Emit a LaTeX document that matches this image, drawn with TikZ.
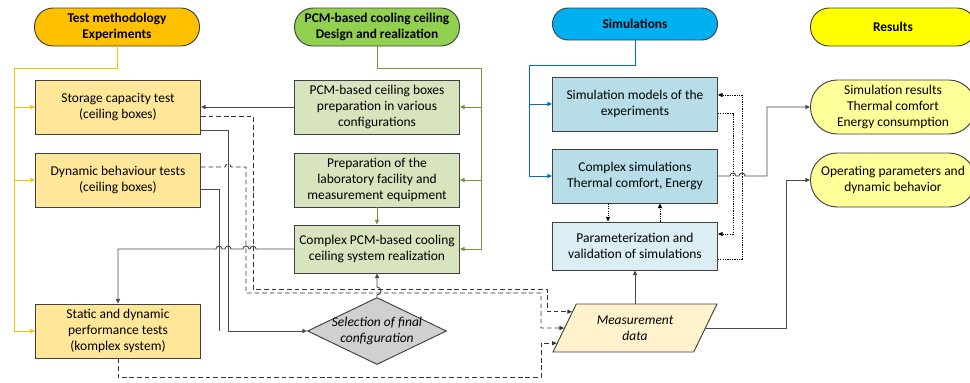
\documentclass[tikz,border=0pt]{standalone}
\usepackage{fontspec}
\setmainfont{Carlito}
\usetikzlibrary{arrows.meta,shapes.geometric,calc,positioning}

\definecolor{hdrorange}{HTML}{FFC000}
\definecolor{hdrgreen}{HTML}{92D050}
\definecolor{hdrblue}{HTML}{00B0F0}
\definecolor{hdryellow}{HTML}{FFFF00}
\definecolor{boxorange}{HTML}{FFE699}
\definecolor{boxgreen}{HTML}{D7E4BD}
\definecolor{boxblue}{HTML}{B7DEE8}
\definecolor{boxpale}{HTML}{DAEEF3}
\definecolor{boxyellow}{HTML}{FFFF99}
\definecolor{datacream}{HTML}{FFF2CC}
\definecolor{diagray}{HTML}{D0D0D0}
\definecolor{lineorange}{HTML}{FFC000}
\definecolor{linegreen}{HTML}{77933C}
\definecolor{lineblue}{HTML}{0070C0}
\definecolor{linegray}{HTML}{4A4A4A}
\definecolor{edge}{HTML}{404040}

\tikzset{
  hdr/.style={draw=edge, line width=0.8pt, rounded corners=0.56cm, minimum width=4.95cm,
    minimum height=1.14cm, align=center, font=\bfseries\fontsize{11.4}{13.4}\selectfont},
  box/.style={draw=edge, line width=0.8pt, minimum width=4.95cm, minimum height=1.62cm,
    inner xsep=2pt, align=center},
  res/.style={box, fill=boxyellow, rounded corners=0.8cm},
  choice/.style={diamond, draw=edge, line width=0.8pt, fill=diagray, minimum width=4.17cm,
    minimum height=2.01cm, aspect=2, inner sep=0pt, align=center,
    font=\itshape\fontsize{11.5}{13.9}\selectfont},
  data/.style={trapezium, trapezium left angle=63, trapezium right angle=117,
    trapezium stretches=true, draw=edge, line width=0.8pt, fill=datacream,
    minimum width=4.95cm, minimum height=1.44cm, align=center,
    font=\itshape\fontsize{11.5}{13.9}\selectfont},
  oline/.style={draw=lineorange, line width=0.8pt},
  gline/.style={draw=linegreen, line width=0.8pt},
  bline/.style={draw=lineblue, line width=0.8pt},
  sline/.style={draw=linegray, line width=0.8pt},
  dline/.style={draw=black!80, line width=0.75pt, dash pattern=on 4pt off 2.5pt},
  tline/.style={draw=black, line width=0.6pt, dash pattern=on 1pt off 1pt},
}

\begin{document}
\begin{tikzpicture}[x=0.03cm, y=-0.03cm, font=\fontsize{11.5}{13.9}\selectfont,
  >={Triangle[length=4pt,width=3.5pt]}]
	\useasboundingbox (0,0) rectangle (970,382);
	% Headers
	\node[hdr, fill=hdrorange] (hmeth) at (117,27) {Test methodology\\Experiments};
	\node[hdr, fill=hdrgreen]  (hpcm)  at (377,27) {PCM-based cooling ceiling\\Design and realization};
	\node[hdr, fill=hdrblue, minimum height=0.96cm, rounded corners=0.47cm] (hsim) at (635,24) {Simulations};
	\node[hdr, fill=hdryellow] (hres)  at (893,27) {Results};

	% Experiments
	\node[box, fill=boxorange] (stor) at (118,107) {Storage capacity test\\(ceiling boxes)};
	\node[box, fill=boxorange] (dyn)  at (118,180) {Dynamic behaviour tests\\(ceiling boxes)};
	\node[box, fill=boxorange] (stat) at (118,331) {Static and dynamic\\performance tests\\(komplex system)};

	% Design and realization
	\node[box, fill=boxgreen] (prep) at (377,107) {PCM-based ceiling boxes\\preparation in various\\configurations};
	\node[box, fill=boxgreen] (lab)  at (377,180) {Preparation of the\\laboratory facility and\\measurement equipment};
	\node[box, fill=boxgreen, minimum height=1.44cm] (real) at (377,249) {Complex PCM-based cooling\\ceiling system realization};
	\node[choice] (sel) at (377,331) {\makebox[0pt]{Selection of final}\\\makebox[0pt]{configuration}};

	% Simulations
	\node[box, fill=boxblue] (smod)  at (635,104) {Simulation models of the\\experiments};
	\node[box, fill=boxblue] (scplx) at (635,176) {Complex simulations\\Thermal comfort, Energy};
	\node[box, fill=boxpale, minimum height=1.44cm] (spar) at (635,246) {Parameterization and\\validation of simulations};
	\node[data] (meas) at (635,328) {Measurement\\data};

	% Results
	\node[res] (rsim) at (893,107) {Simulation results\\Thermal comfort\\Energy consumption};
	\node[res] (rop)  at (893,180) {Operating parameters and\\dynamic behavior};

	% helper points
	\coordinate (otrunk) at (14,68);
	\coordinate (gtrunk) at (481,68);
	\coordinate (btrunk) at (529,65);
	\coordinate (xs1) at (547,0);
	\coordinate (xs2) at (541,0);
	\coordinate (xr1) at (767,0);
	\coordinate (xr2) at (786,0);
	\coordinate (xt1) at (742,0);
	\coordinate (xt2) at (733,0);
	\coordinate (m1) at ($(meas.bottom left corner)!0.833!(meas.top left corner)$);
	\coordinate (m2) at ($(meas.bottom left corner)!0.5!(meas.top left corner)$);
	\coordinate (m3) at ($(meas.bottom left corner)!0.19!(meas.top left corner)$);
	\coordinate (smodin)  at ([yshift=0.27cm]smod.east);
	\coordinate (smodout) at ([yshift=-0.27cm]smod.east);
	\coordinate (sparin)  at ([yshift=0.36cm]spar.east);
	\coordinate (sparout) at ([yshift=-0.39cm]spar.east);

	% Feeds from the headers
	\draw[oline,->] (hmeth.south) |- (otrunk) |- (stat.west);
	\draw[oline,->] (otrunk |- stor.west) -- (stor.west);
	\draw[oline,->] (otrunk |- dyn.west) -- (dyn.west);
	\draw[gline,->] (hpcm.south) |- (gtrunk) |- (real.east);
	\draw[gline,->] (gtrunk |- prep.east) -- (prep.east);
	\draw[gline,->] (gtrunk |- lab.east) -- (lab.east);
	\draw[gline,->] (lab) -- (real);
	\draw[bline,->] (hsim.south) |- (btrunk) |- (scplx.west);
	\draw[bline,->] (btrunk |- smod.west) -- (smod.west);

	% Experiments and design
	\draw[sline,->] (prep.west) -- (stor.east);
	\draw[sline,->] ([yshift=3pt]stor.south east) -| (228,331) -- (sel.west);
	\draw[sline] ([yshift=-0.27cm]dyn.east) -| (219,331);
	\draw[sline,->] (real.west) -- (256,249) arc (0:-180:3) -- (249,249) arc (0:-180:3)
		-- (231,249) arc (0:-180:3) -- (222,249) arc (0:-180:3) -| (stat.north);
	\draw[sline,->] (sel.north) -- (377,295) arc (90:-90:4) -- (real.south);

	% Measured data
	\draw[dline,->] ([yshift=-0.27cm]stor.east) -| (253,289) -| (xs1 |- m1) -- (m1);
	\draw[dline,->] ([yshift=0.39cm]dyn.east) -- (225,167) arc (180:360:3) -| (246,293) -| (xs2 |- m2) -- (m2);
	\draw[dline,->] (stat.south) -- ++(0,19) -| (xs2 |- m3) -- (m3);

	% Simulations
	\draw[sline,->] (spar.south |- meas.north) -- (spar.south);
	\draw[tline,->] (sparout) -| (xt1 |- smodin) -- (smodin);
	\draw[tline,->] (smodout) -| (xt2 |- sparin) -- (sparin);
	\draw[tline,->] ([xshift=-0.81cm]scplx.south) -- ([xshift=-0.81cm]spar.north);
	\draw[tline,->] ([xshift=0.75cm]spar.north) -- ([xshift=0.75cm]scplx.south);

	% Results
	\draw[sline,->] (scplx.east) -- (730,176) arc (180:360:3) -- (739,176) arc (180:360:3)
		-| (xr1 |- rsim.west) -- (rsim.west);
	\draw[sline,->] (meas.east) -| (xr2 |- rop.west) -- (rop.west);
\end{tikzpicture}
\end{document}
